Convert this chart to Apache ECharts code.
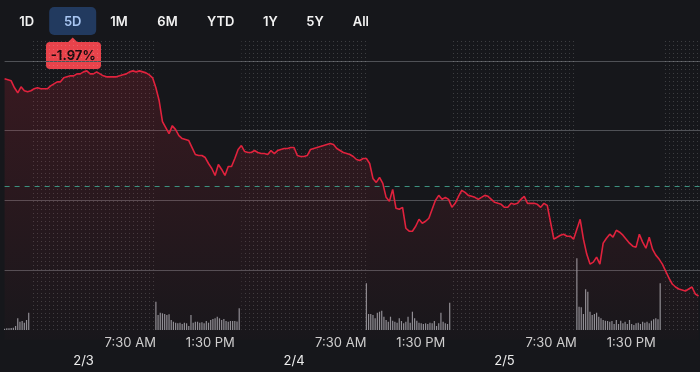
<!DOCTYPE html>
<html><head><meta charset="utf-8">
<script src="https://cdn.jsdelivr.net/npm/echarts@6/dist/echarts.min.js"></script>
<style>html,body{margin:0;padding:0;background:#16171b;}#c{width:700px;height:372px;}</style>
</head><body><div id="c"></div>
<script>
// ---- data ----
const rangeLabels = ['1D','5D','1M','6M','YTD','1Y','5Y','All'];
const selectedRange = '5D';
const changeLabel = '-1.97%';
// x axis unit: extended-trading hours since 2/3 4:00 ET (16 trading hours per day)
const dateLabels = ['2/3','2/4','2/5'];
const dateTicks = [0, 16, 32];
const timeLabels = ['7:30 AM','1:30 PM','7:30 AM','1:30 PM','7:30 AM','1:30 PM'];
const timeTicks = [5.5, 11.5, 21.5, 27.5, 37.5, 43.5];
const sessionOpen = [-10.5, 5.5, 21.5, 37.5];
const sessionClose = [-4, 12, 28, 44];
const xMin = -6, xMax = 46.86;
const prevClose = 28.84;
const gridLevels = [27.3, 30.31, 0.7]; // min, max, step of price axis
const priceStart = -6, priceStep = 0.25;
const price = [
29.92,29.91,29.90,29.83,29.78,29.84,29.80,29.79,29.80,29.82,
29.83,29.82,29.82,29.82,29.85,29.87,29.89,29.89,29.93,29.94,
29.95,29.95,29.97,29.97,29.99,30.00,29.97,29.97,29.99,29.97,
29.95,29.94,29.94,29.94,29.94,29.95,29.96,29.97,29.99,30.00,
29.99,30.00,29.99,29.98,29.96,29.93,29.83,29.70,29.49,29.43,
29.37,29.45,29.41,29.35,29.32,29.31,29.30,29.23,29.16,29.15,
29.15,29.13,29.07,29.02,28.95,29.06,29.01,28.95,29.04,29.04,
29.12,29.21,29.25,29.19,29.18,29.18,29.20,29.18,29.17,29.17,
29.16,29.20,29.17,29.20,29.21,29.22,29.22,29.23,29.23,29.15,
29.14,29.14,29.15,29.21,29.22,29.23,29.24,29.25,29.26,29.27,
29.26,29.22,29.20,29.18,29.17,29.16,29.14,29.11,29.10,29.12,
29.12,29.07,28.92,28.88,28.93,28.87,28.73,28.69,28.81,28.62,
28.61,28.63,28.42,28.39,28.39,28.44,28.51,28.47,28.49,28.52,
28.61,28.70,28.75,28.71,28.73,28.71,28.63,28.67,28.74,28.80,
28.78,28.75,28.74,28.73,28.71,28.73,28.75,28.74,28.71,28.68,
28.67,28.66,28.63,28.63,28.67,28.66,28.67,28.71,28.74,28.67,
28.67,28.67,28.66,28.63,28.67,28.65,28.48,28.31,28.33,28.35,
28.36,28.34,28.34,28.31,28.41,28.51,28.31,28.16,28.06,28.08,
28.13,28.06,28.27,28.32,28.36,28.33,28.40,28.38,28.35,28.31,
28.27,28.24,28.23,28.36,28.28,28.22,28.33,28.21,28.15,28.11,
28.06,27.99,27.92,27.86,27.83,27.81,27.80,27.79,27.81,27.83,
27.76,27.74
];
const volStep = 1/6; // 10-minute bars
const vol22Start = -6;
const vol22 = [13,17,17,20,23,40,117,83,90,73,100,173];
const vol23 = [283,150,173,167,160,150,157,100,83,73,67,73,60,73,67,40,150,73,83,83,73,77,67,90,73,100,110,117,133,117,100,110,90,83,90,90,90,85,217];
const vol24 = [467,160,160,150,117,173,183,193,133,100,83,133,93,83,73,117,90,67,83,133,73,183,117,93,73,67,60,67,60,73,67,90,40,67,173,83,67,60,273];
const vol25 = [717,233,227,160,407,383,183,150,160,173,133,117,100,93,90,83,90,60,100,60,93,67,83,60,100,60,50,67,73,60,83,73,83,67,93,107,117,107,467];
const volMax = 2900;

// ---- build ----
const priceData = price.map((v, i) => [priceStart + i * priceStep, v]);
const volData = [];
[[vol22Start, vol22], [sessionOpen[1], vol23], [sessionOpen[2], vol24], [sessionOpen[3], vol25]]
  .forEach(([s, arr]) => arr.forEach((v, i) => volData.push([s + i * volStep, v])));
const extAreas = [];
for (let k = 0; k < sessionClose.length; k++) {
  const end = k + 1 < sessionOpen.length ? sessionOpen[k + 1] : xMax;
  extAreas.push([{ xAxis: sessionClose[k] }, { xAxis: end }]);
}

// dotted pattern
const pc = document.createElement('canvas');
pc.width = 4; pc.height = 4;
const pctx = pc.getContext('2d');
pctx.fillStyle = 'rgba(255,255,255,0.17)';
pctx.fillRect(1, 1, 1, 1);

const FONT = 'Inter, "Noto Sans", sans-serif';
const buttonCenters = [26.7, 72.7, 119, 167.5, 220.8, 270.5, 315, 360.8];
const graphics = [];
rangeLabels.forEach((lab, i) => {
  const sel = lab === selectedRange;
  if (sel) graphics.push({ type: 'rect', shape: { x: buttonCenters[i] - 23.5, y: 7, width: 47, height: 28, r: 5 }, style: { fill: '#223a5f' } });
  graphics.push({ type: 'text', x: buttonCenters[i], y: 22, style: { text: lab, fill: sel ? '#a9c6f2' : '#f2f2f2', font: '600 13px ' + FONT, textAlign: 'center', textVerticalAlign: 'middle' } });
});
graphics.push({ type: 'polygon', shape: { points: [[67.7, 42.5], [72.7, 37.5], [77.7, 42.5]] }, style: { fill: '#e8434b' } });
graphics.push({ type: 'rect', shape: { x: 46, y: 42, width: 55, height: 27, r: 4 }, style: { fill: '#e8434b' } });
graphics.push({ type: 'text', x: 73.2, y: 55.8, style: { text: changeLabel, fill: '#1a0d0f', font: '700 13px ' + FONT, textAlign: 'center', textVerticalAlign: 'middle' } });

const chart = echarts.init(document.getElementById('c'), null, { renderer: 'canvas' });
chart.setOption({
  animation: false,
  backgroundColor: '#16171b',
  grid: [
    { left: 4.6, right: 0, top: 40, bottom: 32.23 },
    { left: 4.6, right: 0, top: 40, bottom: 42 }
  ],
  xAxis: [
    { type: 'value', gridIndex: 0, min: xMin, max: xMax, splitLine: { show: false }, axisLine: { show: false }, axisTick: { show: false },
      axisLabel: { customValues: dateTicks, formatter: v => dateLabels[dateTicks.indexOf(v)] || '', color: '#ececec', fontFamily: FONT, fontSize: 13, margin: 21, verticalAlign: 'middle', align: 'center' } },
    { type: 'value', gridIndex: 1, min: xMin, max: xMax, splitLine: { show: false }, axisLine: { show: false }, axisTick: { show: false },
      axisLabel: { customValues: timeTicks, formatter: v => timeLabels[timeTicks.indexOf(v)] || '', color: '#cfcfcf', fontFamily: FONT, fontSize: 13, margin: 13, verticalAlign: 'middle', align: 'right' } }
  ],
  yAxis: [
    { type: 'value', gridIndex: 0, min: gridLevels[0], max: gridLevels[1], interval: gridLevels[2], axisLabel: { show: false }, axisLine: { show: false }, axisTick: { show: false },
      splitLine: { show: true, showMinLine: false, showMaxLine: false, lineStyle: { color: '#4f5156', width: 1 } } },
    { type: 'value', gridIndex: 1, min: 0, max: volMax, show: false, splitLine: { show: false } }
  ],
  series: [
    { type: 'bar', xAxisIndex: 1, yAxisIndex: 1, data: volData, barWidth: 1.2, itemStyle: { color: '#8f9197' }, z: 3,
      markArea: { silent: true, itemStyle: { color: { image: pc, repeat: 'repeat' } }, data: extAreas } },
    { type: 'line', xAxisIndex: 0, yAxisIndex: 0, data: priceData, showSymbol: false, symbol: 'none', z: 4,
      lineStyle: { color: '#e0223d', width: 1.6 },
      areaStyle: { color: new echarts.graphic.LinearGradient(0, 0, 0, 1, [{ offset: 0, color: 'rgba(210,35,55,0.26)' }, { offset: 1, color: 'rgba(210,35,55,0.02)' }]) },
      markLine: { silent: true, symbol: 'none', label: { show: false }, lineStyle: { color: '#3b8f7d', type: [5, 5], width: 1 }, data: [{ yAxis: prevClose }] } }
  ],
  graphic: graphics
});
</script></body></html>
